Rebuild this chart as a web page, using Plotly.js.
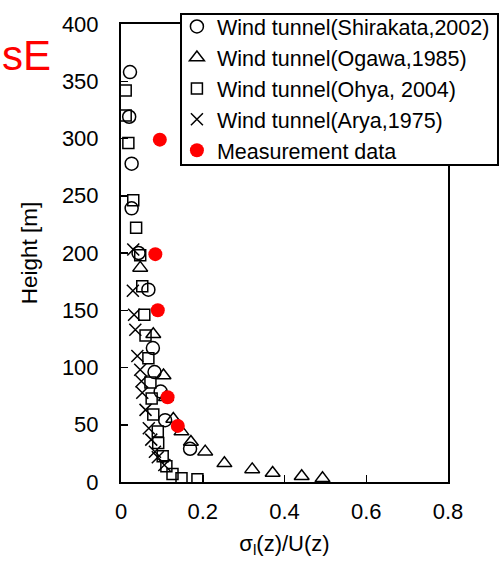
<!DOCTYPE html>
<html>
<head>
<meta charset="utf-8">
<script src="https://cdn.plot.ly/plotly-3.0.1.min.js"></script>
<style>html,body{margin:0;padding:0;background:#fff;}#chart{width:500px;height:563px;}</style>
</head>
<body>
<div id="chart"></div>
<script>
// Wind tunnel (Shirakata, 2002) - circles
const shirakataX = [0.022, 0.020, 0.026, 0.026, 0.043, 0.067, 0.078, 0.082, 0.097, 0.108, 0.169];
const shirakataY = [358, 319, 278, 239, 200, 168, 117, 96, 79, 54, 29];
// Wind tunnel (Ogawa, 1985) - triangles
const ogawaX = [0.047, 0.079, 0.104, 0.110, 0.128, 0.148, 0.171, 0.206, 0.253, 0.321, 0.371, 0.442, 0.493];
const ogawaY = [187, 129, 93, 74, 55, 44, 35, 26.5, 16.3, 11, 7.8, 5, 3.2];
// Wind tunnel (Ohya, 2004) - squares
const ohyaX = [0.0115, 0.0115, 0.018, 0.030, 0.037, 0.047, 0.052, 0.057, 0.060, 0.067, 0.072, 0.075, 0.079, 0.090, 0.091, 0.102, 0.111, 0.126, 0.148, 0.187];
const ohyaY = [342, 320, 296, 246, 222, 198, 171, 146, 128, 108, 87, 73, 59, 44, 34, 22.5, 13.8, 7, 3.2, 2.5];
// Wind tunnel (Arya, 1975) - crosses
const aryaX = [0.030, 0.029, 0.032, 0.035, 0.040, 0.047, 0.050, 0.052, 0.060, 0.068, 0.074, 0.083, 0.090, 0.106];
const aryaY = [203, 167, 146, 133, 110, 98, 88, 78, 63, 47, 37, 26.5, 21.6, 14.8];
// Measurement data - red dots
const measX = [0.095, 0.084, 0.090, 0.114, 0.139];
const measY = [299, 199, 150, 74, 49];

const legendNames = [
  'Wind tunnel(Shirakata,2002)',
  'Wind tunnel(Ogawa,1985)',
  'Wind tunnel(Ohya, 2004)',
  'Wind tunnel(Arya,1975)',
  'Measurement data'
];

const FONT = 'Liberation Sans, Arial, sans-serif';
const lineM = {color: 'black', width: 1.5};

const traces = [
  {x: shirakataX, y: shirakataY, name: legendNames[0], legendgroup: 'a', type: 'scatter', mode: 'markers',
   marker: {symbol: 'circle-open', size: 13, color: 'black', line: lineM}},
  {x: ogawaX, y: ogawaY, name: legendNames[1], legendgroup: 'b', type: 'scatter', mode: 'markers',
   marker: {symbol: 'triangle-up-open', size: 13, color: 'black', line: lineM}},
  {x: ohyaX, y: ohyaY, name: legendNames[2], legendgroup: 'c', type: 'scatter', mode: 'markers',
   marker: {symbol: 'square-open', size: 11, color: 'black', line: lineM}},
  {x: aryaX, y: aryaY, name: legendNames[3], legendgroup: 'd', type: 'scatter', mode: 'markers',
   marker: {symbol: 'x-thin-open', size: 12, color: 'black', line: lineM}},
  {x: measX, y: measY, name: legendNames[4], legendgroup: 'e', type: 'scatter', mode: 'markers',
   marker: {symbol: 'circle', size: 14, color: 'rgb(255,0,0)', line: {width: 0}}}
];

const layout = {
  width: 500, height: 563,
  margin: {l: 121, r: 52, t: 24, b: 81, pad: 0, autoexpand: false},
  paper_bgcolor: 'white', plot_bgcolor: 'white',
  font: {family: FONT, size: 20, color: 'black'},
  showlegend: true,
  xaxis: {
    range: [0, 0.8], dtick: 0.2, tick0: 0,
    ticks: 'inside', ticklen: 7, tickwidth: 1.5, tickcolor: 'black',
    showline: true, linecolor: 'black', linewidth: 2, mirror: true,
    showgrid: false, zeroline: false,
    tickfont: {family: FONT, size: 22},
    ticklabelstandoff: 9,
    tickformat: '~g',
    title: {text: 'σ<sub>l</sub>(z)/U(z)', font: {family: FONT, size: 22}, standoff: 12}
  },
  yaxis: {
    range: [0, 400], dtick: 50, tick0: 0,
    ticks: 'inside', ticklen: 7, tickwidth: 1.5, tickcolor: 'black',
    showline: true, linecolor: 'black', linewidth: 2, mirror: true,
    showgrid: false, zeroline: false,
    tickfont: {family: FONT, size: 22},
    ticklabelstandoff: 16,
    title: {text: 'Height [m]', font: {family: FONT, size: 22.5}, standoff: 18}
  },
  legend: {
    x: 0.171, y: 1.0393, xanchor: 'left', yanchor: 'top',
    bgcolor: 'rgba(0,0,0,0)', borderwidth: 0,
    font: {family: FONT, size: 21.5, color: 'black'},
    tracegroupgap: 1, itemwidth: 30,
    traceorder: 'normal'
  },
  shapes: [{
    type: 'rect', xref: 'paper', yref: 'paper', layer: 'above',
    x0: 0.1835, x1: 1.1529, y0: 0.6921, y1: 1.0218,
    fillcolor: 'white', line: {color: 'black', width: 2}
  }],
  annotations: [{
    text: 'sE', xref: 'paper', yref: 'paper',
    x: -0.37, y: 0.932, xanchor: 'left', yanchor: 'middle',
    showarrow: false, font: {family: FONT, size: 42, color: 'rgb(255,0,0)'}
  }]
};

Plotly.newPlot('chart', traces, layout, {displayModeBar: false, staticPlot: true});
</script>
</body>
</html>
